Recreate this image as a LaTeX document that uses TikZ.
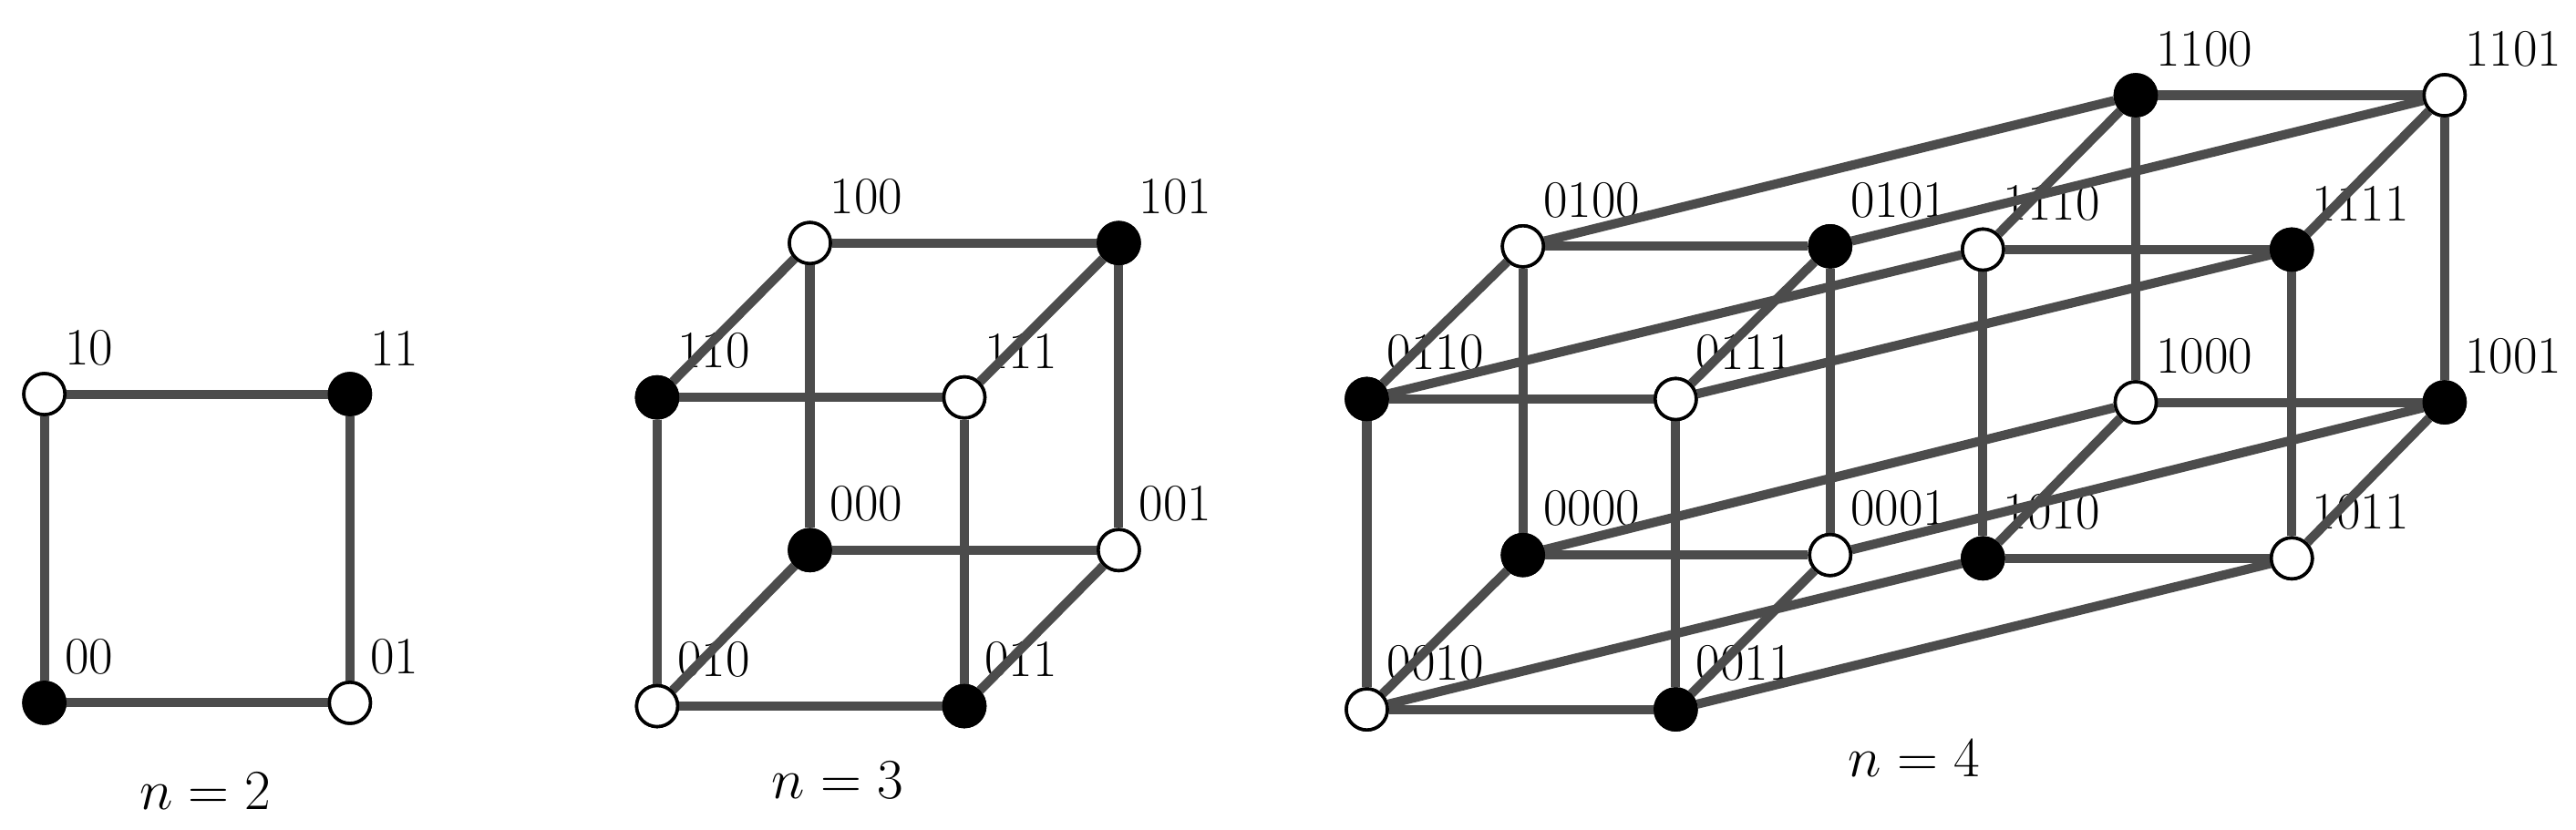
\documentclass[tikz,border=0pt]{standalone}
\usetikzlibrary{calc}
\begin{document}
\begin{tikzpicture}[x=0.5pt,y=-0.5pt,
  edge/.style={draw=black!70,line width=2.8pt},
  vb/.style={circle,draw=black,line width=1pt,fill=black,minimum size=12.5pt,inner sep=0pt},
  vw/.style={circle,draw=black,line width=1pt,fill=white,minimum size=12.5pt,inner sep=0pt},
  lbl/.style={anchor=south west,inner sep=0pt,font=\fontsize{16}{18}\selectfont},
  captext/.style={font=\fontsize{16}{18}\selectfont}]
\useasboundingbox (0,0) rectangle (1568,505);
\newcommand\vtx[4]{\node[#4] (v#1) at (#2,#3) {};\node[lbl] at ($(v#1)+(6pt,8.5pt)$) {#1};}
% n=2
\vtx{10}{27}{240}{vw}\vtx{11}{213}{240}{vb}\vtx{00}{27}{428}{vb}\vtx{01}{213}{428}{vw}
\foreach \a/\b in {10/11,10/00,11/01,00/01} \draw[edge] (v\a)--(v\b);
\node[captext] at (125,482) {$n=2$};
% n=3
\vtx{100}{493}{148}{vw}\vtx{101}{681}{148}{vb}\vtx{110}{400}{242}{vb}\vtx{111}{587}{242}{vw}
\vtx{000}{493}{335}{vb}\vtx{001}{681}{335}{vw}\vtx{010}{400}{430}{vw}\vtx{011}{587}{430}{vb}
\foreach \a/\b in {100/101,100/110,101/111,110/111,000/001,000/010,001/011,010/011,100/000,101/001,110/010,111/011}
  \draw[edge] (v\a)--(v\b);
\node[captext] at (510,475) {$n=3$};
% n=4
\vtx{1100}{1300}{58}{vb}\vtx{1101}{1488}{58}{vw}\vtx{0100}{927}{150}{vw}\vtx{0101}{1114}{150}{vb}
\vtx{1110}{1207}{152}{vw}\vtx{1111}{1395}{152}{vb}\vtx{0110}{832}{243}{vb}\vtx{0111}{1020}{243}{vw}
\vtx{1000}{1300}{245}{vw}\vtx{1001}{1488}{245}{vb}\vtx{0000}{927}{338}{vb}\vtx{0001}{1114}{338}{vw}
\vtx{1010}{1207}{340}{vb}\vtx{1011}{1395}{340}{vw}\vtx{0010}{832}{432}{vw}\vtx{0011}{1020}{432}{vb}
\foreach \p in {0,1}{
 \foreach \a/\b in {100/101,100/110,101/111,110/111,000/001,000/010,001/011,010/011,100/000,101/001,110/010,111/011}
  \draw[edge] (v\p\a)--(v\p\b);}
\foreach \a in {100,101,110,111,000,001,010,011} \draw[edge] (v0\a)--(v1\a);
% redraw vertices on top
\foreach \n/\x/\y/\s in {10/27/240/vw,11/213/240/vb,00/27/428/vb,01/213/428/vw,
 100/493/148/vw,101/681/148/vb,110/400/242/vb,111/587/242/vw,000/493/335/vb,001/681/335/vw,010/400/430/vw,011/587/430/vb,
 1100/1300/58/vb,1101/1488/58/vw,0100/927/150/vw,0101/1114/150/vb,1110/1207/152/vw,1111/1395/152/vb,0110/832/243/vb,0111/1020/243/vw,
 1000/1300/245/vw,1001/1488/245/vb,0000/927/338/vb,0001/1114/338/vw,1010/1207/340/vb,1011/1395/340/vw,0010/832/432/vw,0011/1020/432/vb}
 \node[\s] at (\x,\y) {};
\node[captext] at (1165,462) {$n=4$};
\end{tikzpicture}
\end{document}
